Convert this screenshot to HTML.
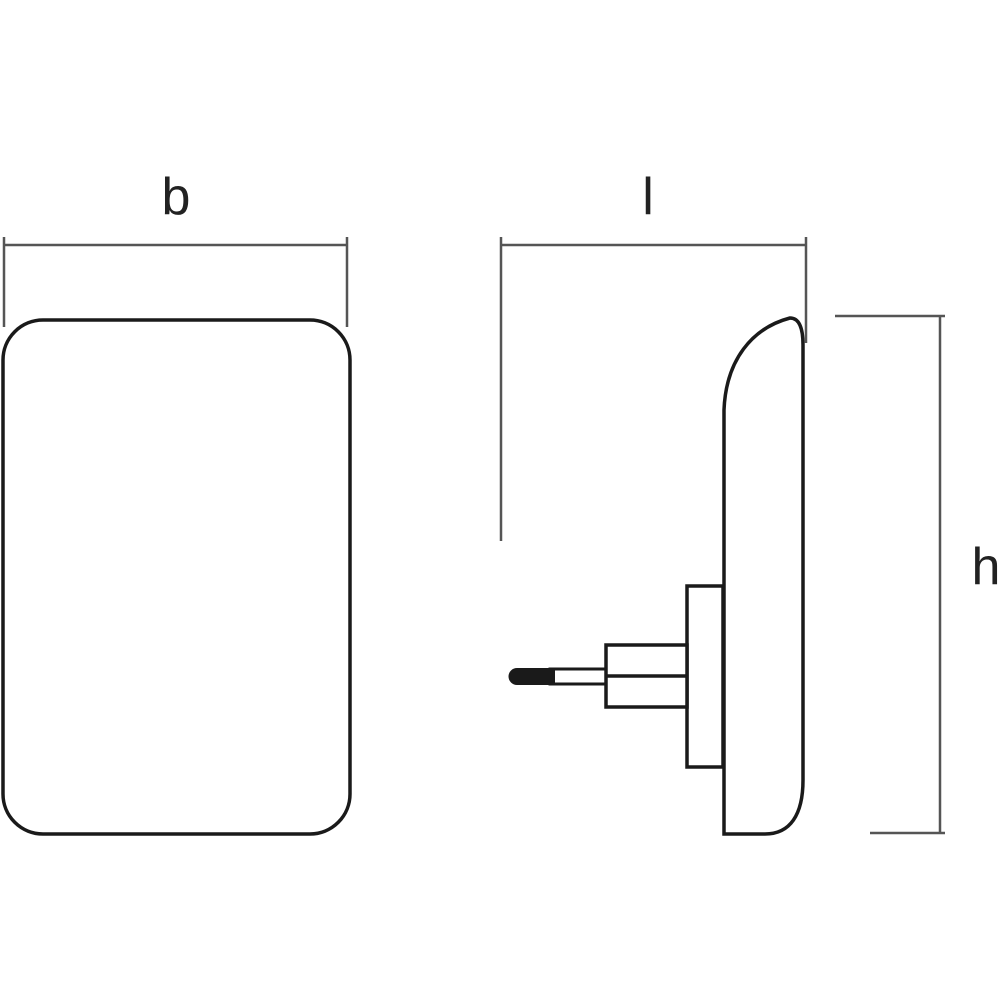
<!DOCTYPE html>
<html><head><meta charset="utf-8"><style>
html,body{margin:0;padding:0;background:#fff;}
svg{display:block;}
text{font-family:"Liberation Sans",sans-serif;fill:#222;}
</style></head><body>
<svg width="1000" height="1000" viewBox="0 0 1000 1000" xmlns="http://www.w3.org/2000/svg">
<g stroke="#555" stroke-width="2.5" fill="none">
<line x1="4" y1="245" x2="347" y2="245"/>
<line x1="4" y1="237" x2="4" y2="327"/>
<line x1="347" y1="237" x2="347" y2="327"/>
<line x1="501" y1="245" x2="806" y2="245"/>
<line x1="501" y1="237" x2="501" y2="541"/>
<line x1="806" y1="237" x2="806" y2="343"/>
<line x1="940" y1="316" x2="940" y2="833"/>
<line x1="835" y1="316" x2="945" y2="316"/>
<line x1="870" y1="833" x2="945" y2="833"/>
</g>
<g stroke="#1a1a1a" stroke-width="3.5" fill="none">
<rect x="3" y="320" width="347" height="514" rx="40" ry="40"/>
<path d="M724,834 L724,410 C726,360 752,328 790,318 C800,318 803,330 803,345 L803,780 C803,815 790,834 765,834 Z"/>
<rect x="687" y="586" width="36" height="181" fill="#fff"/>
<rect x="606" y="645" width="81" height="62" fill="#fff"/>
<line x1="606" y1="676" x2="687" y2="676"/>
<rect x="550" y="669" width="56" height="15" stroke-width="3"/>
</g>
<path d="M555,668 L517,668 A8.5,8.5 0 0 0 517,685 L555,685 Z" fill="#1a1a1a"/>
<text x="176" y="214" font-size="52" text-anchor="middle">b</text>
<text x="648" y="214" font-size="52" text-anchor="middle">l</text>
<text x="986" y="584" font-size="52" text-anchor="middle">h</text>
</svg>
</body></html>
